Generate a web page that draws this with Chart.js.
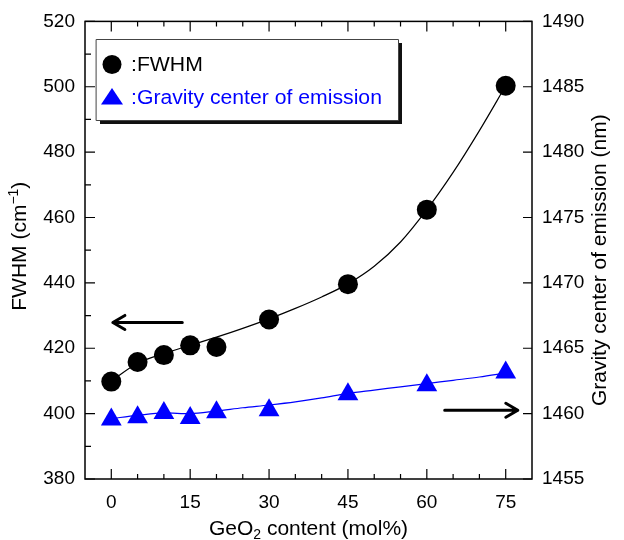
<!DOCTYPE html>
<html><head><meta charset="utf-8">
<script src="https://cdn.jsdelivr.net/npm/chart.js@4.4.1/dist/chart.umd.min.js"></script>
<style>html,body{margin:0;padding:0;background:#fff}#wrap{width:624px;height:540px}</style>
</head><body><div id="wrap"><canvas id="c" width="624" height="540"></canvas></div>
<script>
// ---- data ----
const geo2Content = [0, 5, 10, 15, 20, 30, 45, 60, 75];
const fwhm = [409.8, 415.8, 417.9, 420.9, 420.4, 428.8, 439.6, 462.4, 500.3];
const gravityCenter = [1459.55, 1459.73, 1460.04, 1459.66, 1460.1, 1460.26, 1461.49, 1462.17, 1463.14];
// smooth guide curves
const curveX = [0, 5, 10, 15, 20, 25, 30, 35, 40, 45, 50, 55, 60, 65, 70, 75];
const fwhmCurve = [410, 415.4, 418.4, 420.9, 423.4, 426.1, 429, 432.2, 435.7, 439.7, 445.1, 452.5, 462.4, 473.8, 486.6, 500.3];
const gravityCurve = [1459.62, 1459.87, 1460.05, 1460.0, 1460.2, 1460.45, 1460.66, 1460.9, 1461.2, 1461.55, 1461.8, 1462.05, 1462.3, 1462.55, 1462.8, 1463.1];
const xTickLabels = [0, 15, 30, 45, 60, 75];
const xMinorTicks = [5, 10, 20, 25, 35, 40, 50, 55, 65, 70];
const yMinorTicks = [390, 410, 430, 450, 470, 490, 510];
const legendLabels = [':FWHM', ':Gravity center of emission'];
const xTitle = ['GeO', '2', ' content (mol%)'];
const yTitle = ['FWHM (cm', '\u22121', ')'];
const y2Title = 'Gravity center of emission (nm)';

const FONT = '"Liberation Sans", Arial, Helvetica, sans-serif';
const pts = (xs, ys) => xs.map((x, i) => ({x: x, y: ys[i]}));

const decor = {
  id: 'decor',
  afterDraw(chart) {
    const c = chart.ctx, a = chart.chartArea;
    const sx = chart.scales.x, sy = chart.scales.y, sy2 = chart.scales.y2;
    c.save();
    c.strokeStyle = '#000'; c.lineWidth = 1.5;
    c.strokeRect(a.left, a.top, a.right - a.left, a.bottom - a.top);
    c.lineWidth = 1.2;
    c.beginPath();
    xTickLabels.forEach(v => { const p = sx.getPixelForValue(v);
      c.moveTo(p, a.bottom); c.lineTo(p, a.bottom - 10);
      c.moveTo(p, a.top); c.lineTo(p, a.top + 10); });
    xMinorTicks.forEach(v => { const p = sx.getPixelForValue(v);
      c.moveTo(p, a.bottom); c.lineTo(p, a.bottom - 5);
      c.moveTo(p, a.top); c.lineTo(p, a.top + 5); });
    sy.ticks.forEach(t => { const p = sy.getPixelForValue(t.value);
      c.moveTo(a.left, p); c.lineTo(a.left + 10, p); });
    yMinorTicks.forEach(v => { const p = sy.getPixelForValue(v);
      c.moveTo(a.left, p); c.lineTo(a.left + 6, p); });
    sy2.ticks.forEach(t => { const p = sy2.getPixelForValue(t.value);
      c.moveTo(a.right, p); c.lineTo(a.right - 9, p); });
    c.stroke();

    // arrows
    c.lineWidth = 3; c.lineCap = 'round'; c.lineJoin = 'round';
    const arrow = (x0, x1, y, dir) => {
      c.beginPath(); c.moveTo(x0, y); c.lineTo(x1, y);
      const tip = dir < 0 ? x0 : x1;
      c.moveTo(tip - dir * 12, y - 7); c.lineTo(tip, y); c.lineTo(tip - dir * 12, y + 7);
      c.stroke();
    };
    const ly = sy.getPixelForValue(427.9);
    arrow(sx.getPixelForValue(0.3), sx.getPixelForValue(13.5), ly, -1);
    const ry = sy2.getPixelForValue(1460.26);
    arrow(sx.getPixelForValue(63.4), sx.getPixelForValue(77.3), ry, 1);

    // axis titles
    c.fillStyle = '#000';
    c.textBaseline = 'alphabetic';
    c.font = '21px ' + FONT;
    const subFont = '14px ' + FONT;
    const w1 = c.measureText(xTitle[0]).width, w3 = c.measureText(xTitle[2]).width;
    c.font = subFont; const w2 = c.measureText(xTitle[1]).width;
    let tx = (a.left + a.right) / 2 - (w1 + w2 + w3) / 2, tb = 535;
    c.font = '21px ' + FONT; c.textAlign = 'left';
    c.fillText(xTitle[0], tx, tb);
    c.font = subFont; c.fillText(xTitle[1], tx + w1, tb + 4);
    c.font = '21px ' + FONT; c.fillText(xTitle[2], tx + w1 + w2, tb);
    c.save();
    c.translate(26, (a.top + a.bottom) / 2 - 4); c.rotate(-Math.PI / 2);
    c.font = '21px ' + FONT; const v1 = c.measureText(yTitle[0]).width, v3 = c.measureText(yTitle[2]).width;
    c.font = subFont; const v2 = c.measureText(yTitle[1]).width;
    let ux = -(v1 + v2 + v3) / 2;
    c.font = '21px ' + FONT; c.fillText(yTitle[0], ux, 0);
    c.font = subFont; c.fillText(yTitle[1], ux + v1, -8);
    c.font = '21px ' + FONT; c.fillText(yTitle[2], ux + v1 + v2, 0);
    c.restore();
    c.save();
    c.translate(606, (a.top + a.bottom) / 2 + 10); c.rotate(-Math.PI / 2);
    c.font = '21px ' + FONT; c.textAlign = 'center';
    c.fillText(y2Title, 0, 0);
    c.restore();

    // legend
    c.fillStyle = '#111';
    c.fillRect(100, 43, 302, 81);
    c.fillStyle = '#fff';
    c.fillRect(96, 39.5, 302, 81);
    c.strokeStyle = '#444'; c.lineWidth = 1;
    c.strokeRect(96.5, 39.5, 302, 81);
    c.fillStyle = '#000';
    c.beginPath(); c.arc(112, 64.5, 9.5, 0, Math.PI * 2); c.fill();
    c.fillStyle = '#0000ff';
    c.beginPath(); c.moveTo(112, 88); c.lineTo(123, 104.5); c.lineTo(101, 104.5); c.closePath(); c.fill();
    c.font = '20px ' + FONT; c.textAlign = 'left';
    c.save(); c.translate(131, 0); c.scale(1.06, 1);
    c.fillStyle = '#000'; c.fillText(legendLabels[0], 0, 71);
    c.fillStyle = '#0000ff'; c.fillText(legendLabels[1], 0, 103.5);
    c.restore();
    c.restore();
  }
};

const tickFont = {family: FONT, size: 19};
const plain = v => String(v);
new Chart(document.getElementById('c'), {
  type: 'scatter',
  data: {
    datasets: [
      {label: 'FWHM', data: pts(geo2Content, fwhm), yAxisID: 'y', pointStyle: 'circle',
       pointRadius: 10, backgroundColor: '#000', borderColor: '#000', pointBorderWidth: 0, showLine: false, order: 0},
      {label: 'Gravity center of emission', data: pts(geo2Content, gravityCenter), yAxisID: 'y2', pointStyle: 'triangle',
       pointRadius: 12, backgroundColor: '#0000ff', borderColor: '#0000ff', pointBorderWidth: 0, showLine: false, order: 0},
      {label: 'fwhm curve', data: pts(curveX, fwhmCurve), yAxisID: 'y', showLine: true, pointRadius: 0,
       borderColor: '#000', borderWidth: 1.2, cubicInterpolationMode: 'monotone', order: 1},
      {label: 'gravity curve', data: pts(curveX, gravityCurve), yAxisID: 'y2', showLine: true, pointRadius: 0,
       borderColor: '#0000ff', borderWidth: 1.2, cubicInterpolationMode: 'monotone', order: 1}
    ]
  },
  options: {
    responsive: false, animation: false, events: [],
    layout: {padding: {top: 19, left: 0, right: 0, bottom: 0}},
    plugins: {legend: {display: false}, tooltip: {enabled: false}, title: {display: false}},
    scales: {
      x: {type: 'linear', position: 'bottom', min: -5, max: 80,
          afterBuildTicks: s => { s.ticks = xTickLabels.map(v => ({value: v})); },
          afterFit: s => { s.height = 61; },
          grid: {display: false, drawTicks: false}, border: {display: false},
          ticks: {font: tickFont, color: '#000', padding: 12, maxRotation: 0, autoSkip: false, callback: plain}},
      y: {type: 'linear', position: 'left', min: 380, max: 520,
          afterFit: s => { s.width = 85; },
          grid: {display: false, drawTicks: false}, border: {display: false},
          ticks: {stepSize: 20, font: tickFont, color: '#000', padding: 10, callback: plain}},
      y2: {type: 'linear', position: 'right', min: 1455, max: 1490,
          afterFit: s => { s.width = 92; },
          grid: {display: false, drawTicks: false}, border: {display: false},
          ticks: {stepSize: 5, font: tickFont, color: '#000', padding: 10, callback: plain}}
    }
  },
  plugins: [decor]
});
</script></body></html>
